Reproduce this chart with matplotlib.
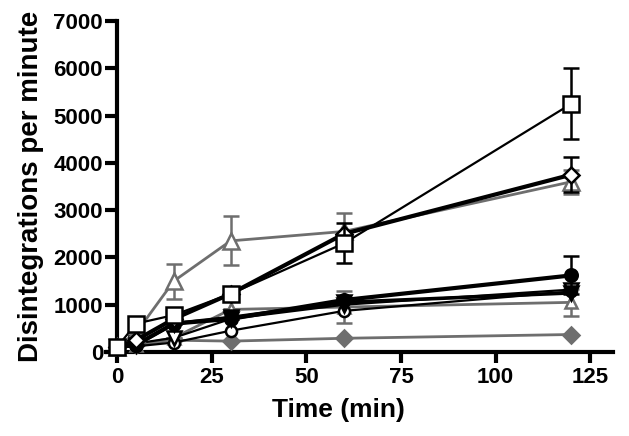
import matplotlib
matplotlib.use("Agg")
import matplotlib.pyplot as plt

plt.rcParams['font.family'] = ['Liberation Sans', 'DejaVu Sans']
plt.rcParams['font.weight'] = 'bold'

time = [0, 5, 15, 30, 60, 120]

sq_open = [100, 600, 780, 1230, 2300, 5250]
sq_open_err = [0, 0, 0, 0, 420, 750]
dia_open = [100, 250, 700, 1230, 2500, 3750]
dia_open_err = [0, 0, 0, 0, 0, 370]
tri_gray = [100, 400, 1500, 2350, 2550, 3600]
tri_gray_err = [0, 0, 370, 520, 380, 250]
circ_fill = [100, 150, 600, 700, 1100, 1620]
circ_fill_err = [0, 0, 0, 0, 0, 400]
itri_fill = [100, 150, 600, 730, 1050, 1250]
itri_open = [100, 180, 300, 700, 1000, 1320]
circ_open = [100, 120, 200, 450, 870, 1280]
tri_gray2 = [100, 150, 300, 900, 950, 1050]
tri_gray2_err = [0, 0, 0, 0, 330, 280]
dia_gray = [100, 150, 250, 230, 290, 370]

W, H = 629, 436
fig = plt.figure(figsize=(W / 100, H / 100), dpi=100)
x0 = 117 - 3 * 3.784
ax = fig.add_axes([x0 / W, 84 / H, (613 - x0) / W, (415 - 84) / H])

gray = '#6e6e6e'
black = '#000000'

def series(y, err, marker, color, lw, ms, mfc, z):
    ax.errorbar(time, y, yerr=err, color=color, lw=lw, marker=marker, ms=ms,
                mfc=mfc, mec=color, mew=1.8, ecolor=color, elinewidth=1.8,
                capsize=6, capthick=1.8, zorder=z, clip_on=False)

series(dia_gray, None, 'D', gray, 2.0, 8, gray, 3)
series(tri_gray2, tri_gray2_err, '^', gray, 2.0, 9, 'white', 3)
series(circ_open, None, 'o', black, 1.6, 8, 'white', 4)
series(itri_open, None, 'v', black, 1.6, 10, 'white', 4)
series(itri_fill, None, 'v', black, 2.6, 10, black, 5)
series(circ_fill, circ_fill_err, 'o', black, 3.0, 9, black, 5)
series(tri_gray, tri_gray_err, '^', gray, 2.0, 12, 'white', 4)
series(dia_open, dia_open_err, 'D', black, 3.0, 8, 'white', 5)
series(sq_open, sq_open_err, 's', black, 1.6, 11, 'white', 6)

ax.set_xlim(-3, 131)
ax.set_ylim(0, 7000)
ax.spines['left'].set_position(('data', 0))
ax.spines['right'].set_visible(False)
ax.spines['top'].set_visible(False)
for s in ['left', 'bottom']:
    ax.spines[s].set_linewidth(3)
ax.spines['left'].set_bounds(0, 7000)
ax.set_xticks([0, 25, 50, 75, 100, 125])
ax.set_yticks(range(0, 7001, 1000))
ax.tick_params(axis='y', width=3, length=9, labelsize=16, pad=1)
ax.tick_params(axis='x', width=3, length=8, labelsize=16, pad=3)
for lab in ax.get_xticklabels() + ax.get_yticklabels():
    lab.set_fontweight('bold')
ax.set_xlabel('Time (min)', fontsize=19, fontweight='bold', labelpad=3)
ax.xaxis.set_label_coords(0.458, -0.14)
ax.set_ylabel('Disintegrations per minute', fontsize=20, fontweight='bold', labelpad=7)

fig.savefig('out.png', dpi=100)
